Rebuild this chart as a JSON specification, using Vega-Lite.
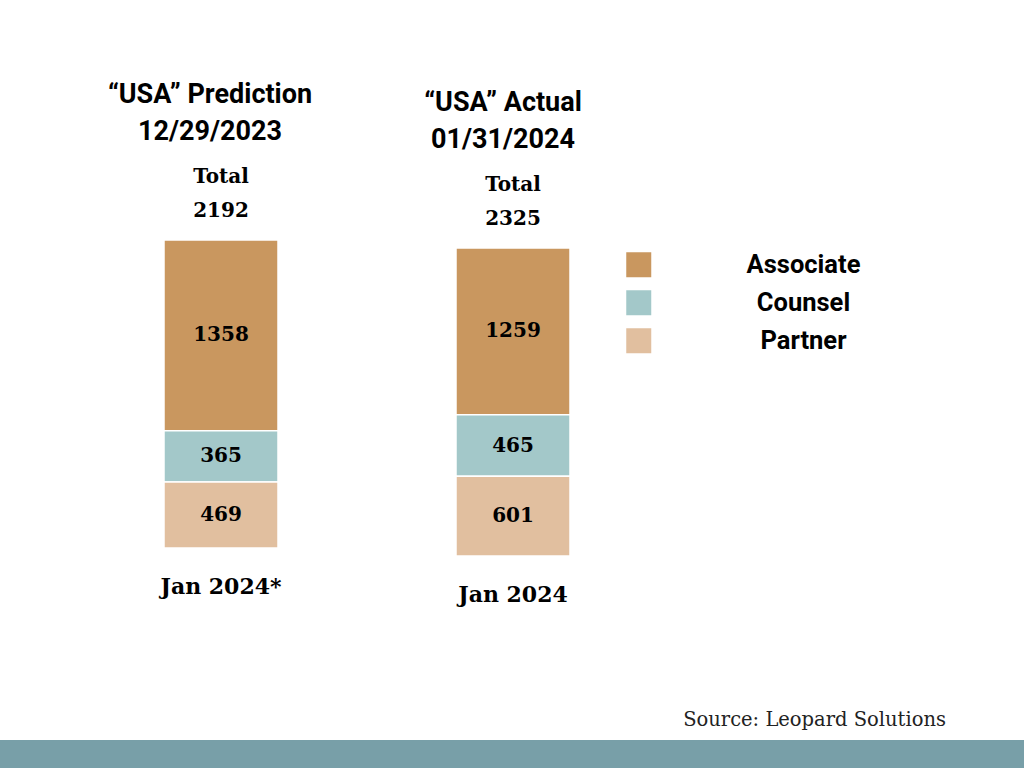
{
  "$schema": "https://vega.github.io/schema/vega-lite/v6.json",
  "background": "white",
  "padding": {"left": 0, "top": 81, "right": 0, "bottom": 0},
  "bounds": "flush",
  "spacing": 500,
  "config": {
    "view": {"stroke": null},
    "font": "Roboto",
    "title": {"font": "Roboto", "fontSize": 27, "fontWeight": "bold", "color": "black", "anchor": "middle", "lineHeight": 37},
    "text": {"font": "DejaVu Serif", "fontWeight": "bold", "fontSize": 20, "color": "black"}
  },
  "datasets": {
    "counts": [
      {"panel": "Prediction", "period": "Jan 2024*", "role": "Associate", "count": 1358},
      {"panel": "Prediction", "period": "Jan 2024*", "role": "Counsel", "count": 365},
      {"panel": "Prediction", "period": "Jan 2024*", "role": "Partner", "count": 469},
      {"panel": "Actual", "period": "Jan 2024", "role": "Associate", "count": 1259},
      {"panel": "Actual", "period": "Jan 2024", "role": "Counsel", "count": 465},
      {"panel": "Actual", "period": "Jan 2024", "role": "Partner", "count": 601}
    ]
  },
  "vconcat": [
    {
      "hconcat": [
        {
          "width": 442,
          "height": 308,
          "title": {"text": ["“USA” Prediction", "12/29/2023"], "dx": -11, "offset": 21},
          "data": {"name": "counts"},
          "transform": [{"filter": "datum.panel === 'Prediction'"}],
          "encoding": {
            "x": {"field": "period", "type": "nominal", "scale": {"paddingInner": 0, "paddingOuter": 0},
              "axis": {"title": null, "domain": false, "ticks": false, "labelAngle": 0, "labelFont": "DejaVu Serif", "labelFontSize": 22, "labelFontWeight": "bold", "labelColor": "black", "labelPadding": 28}}
          },
          "layer": [
            {
              "mark": {"type": "bar", "width": 114, "stroke": "white", "strokeWidth": 1.5},
              "encoding": {
                "y": {"field": "count", "type": "quantitative", "stack": "zero", "axis": null, "scale": {"nice": false, "domain": [0, 2192]}},
                "color": {"field": "role", "type": "nominal",
                  "scale": {"domain": ["Associate", "Counsel", "Partner"], "range": ["#c9975f", "#a3c8c9", "#e1bf9f"]},
                  "legend": {"title": null, "orient": "none", "legendX": 626, "legendY": 12, "symbolType": "square", "symbolSize": 625, "symbolStrokeWidth": 0, "labelFont": "Roboto", "labelFontSize": 25.5, "labelFontWeight": "bold", "labelColor": "black", "labelAlign": "center", "labelOffset": 152, "rowPadding": 11, "labelLimit": 300}},
                "order": {"field": "role", "sort": "descending"}
              }
            },
            {
              "mark": {"type": "text"},
              "encoding": {
                "y": {"field": "count", "type": "quantitative", "stack": "zero", "bandPosition": 0.5},
                "text": {"field": "count", "type": "quantitative"},
                "detail": {"field": "role"},
                "order": {"field": "role", "sort": "descending"}
              }
            },
            {
              "transform": [{"aggregate": [{"op": "sum", "field": "count", "as": "count"}], "groupby": ["period"]}],
              "mark": {"type": "text", "text": "Total", "dy": -63},
              "encoding": {"y": {"field": "count", "type": "quantitative"}}
            },
            {
              "transform": [{"aggregate": [{"op": "sum", "field": "count", "as": "count"}], "groupby": ["period"]}],
              "mark": {"type": "text", "dy": -29},
              "encoding": {"y": {"field": "count", "type": "quantitative"}, "text": {"field": "count", "type": "quantitative"}}
            }
          ]
        },
        {
          "width": 142,
          "height": 316,
          "title": {"text": ["“USA” Actual", "01/31/2024"], "dx": -10, "offset": 21},
          "data": {"name": "counts"},
          "transform": [{"filter": "datum.panel === 'Actual'"}],
          "encoding": {
            "x": {"field": "period", "type": "nominal", "scale": {"paddingInner": 0, "paddingOuter": 0},
              "axis": {"title": null, "domain": false, "ticks": false, "labelAngle": 0, "labelFont": "DejaVu Serif", "labelFontSize": 22, "labelFontWeight": "bold", "labelColor": "black", "labelPadding": 28}}
          },
          "layer": [
            {
              "mark": {"type": "bar", "width": 114, "stroke": "white", "strokeWidth": 1.5},
              "encoding": {
                "y": {"field": "count", "type": "quantitative", "stack": "zero", "axis": null, "scale": {"nice": false, "domain": [0, 2385]}},
                "color": {"field": "role", "type": "nominal",
                  "scale": {"domain": ["Associate", "Counsel", "Partner"], "range": ["#c9975f", "#a3c8c9", "#e1bf9f"]}},
                "order": {"field": "role", "sort": "descending"}
              }
            },
            {
              "mark": {"type": "text"},
              "encoding": {
                "y": {"field": "count", "type": "quantitative", "stack": "zero", "bandPosition": 0.5},
                "text": {"field": "count", "type": "quantitative"},
                "detail": {"field": "role"},
                "order": {"field": "role", "sort": "descending"}
              }
            },
            {
              "transform": [{"aggregate": [{"op": "sum", "field": "count", "as": "count"}], "groupby": ["period"]}],
              "mark": {"type": "text", "text": "Total", "dy": -63},
              "encoding": {"y": {"field": "count", "type": "quantitative"}}
            },
            {
              "transform": [{"aggregate": [{"op": "sum", "field": "count", "as": "count"}], "groupby": ["period"]}],
              "mark": {"type": "text", "dy": -29},
              "encoding": {"y": {"field": "count", "type": "quantitative"}, "text": {"field": "count", "type": "quantitative"}}
            }
          ]
        }
      ],
      "spacing": 0,
      "bounds": "flush"
    },
    {
      "width": 1024,
      "height": 28,
      "title": {"text": "Source: Leopard Solutions", "anchor": "end", "font": "DejaVu Serif", "fontSize": 19.5, "fontWeight": "normal", "color": "#222222", "dx": -78, "offset": 10},
      "data": {"values": [{"band": "footer"}]},
      "mark": {"type": "rect", "color": "#789fa8"},
      "encoding": {}
    }
  ]
}
